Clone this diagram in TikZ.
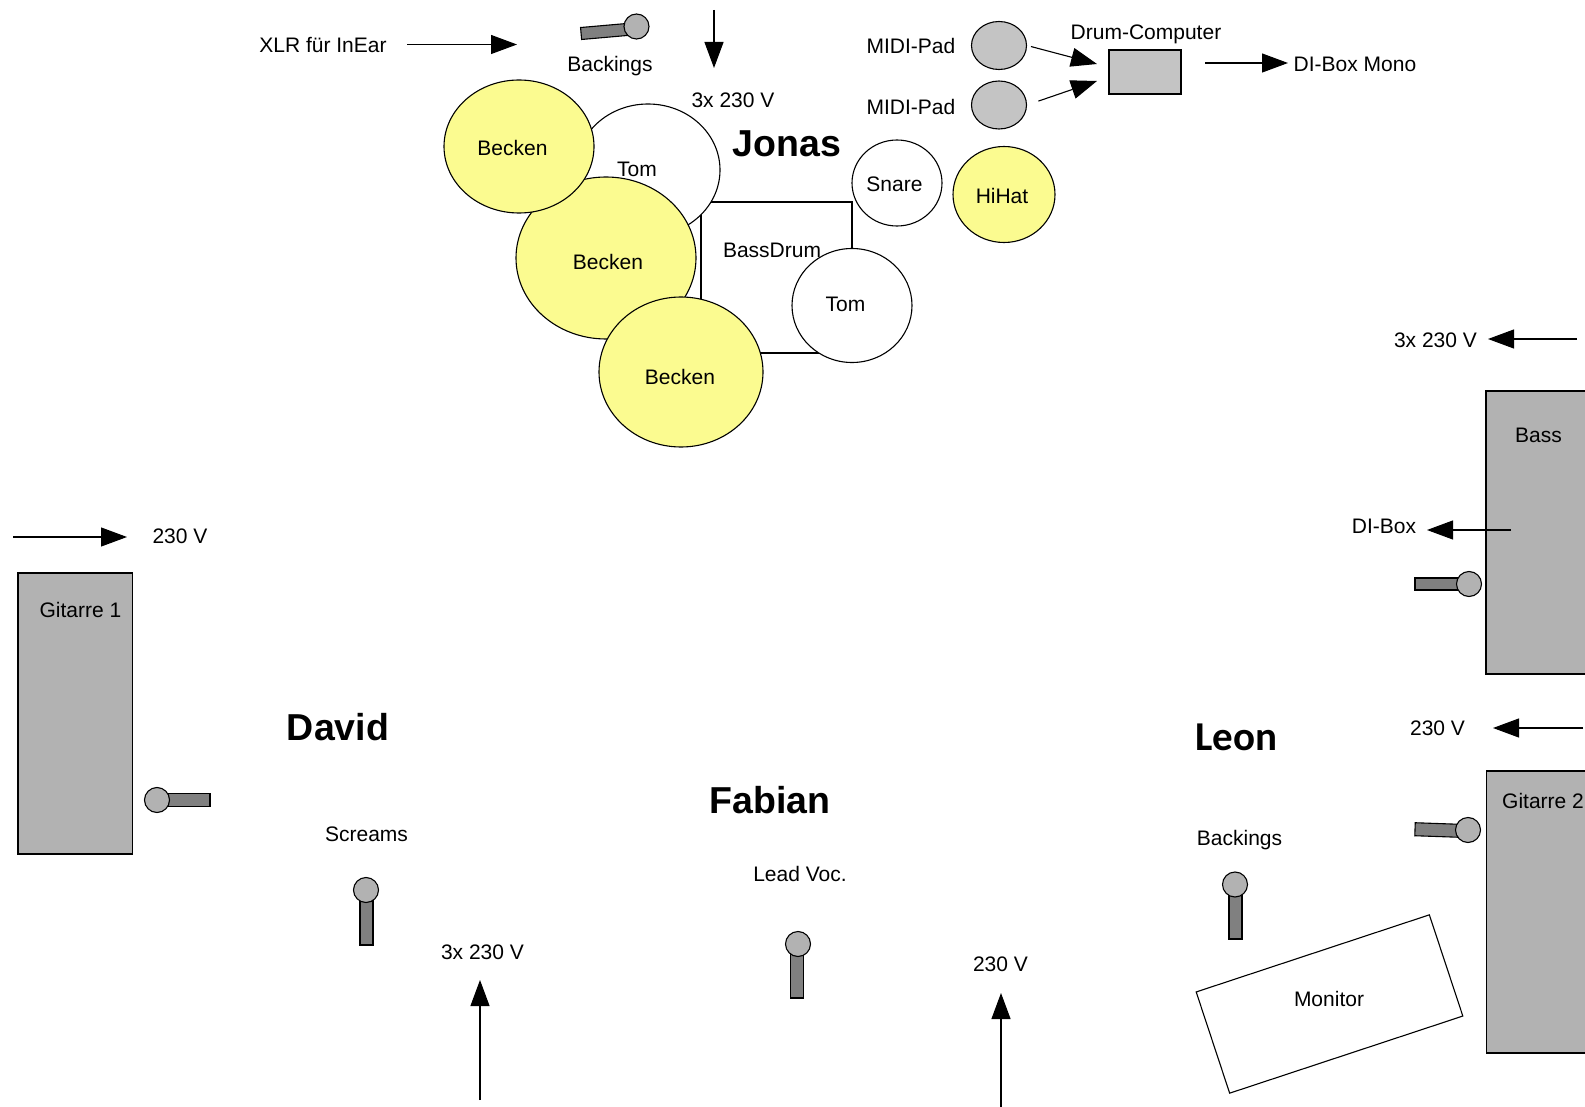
\documentclass[tikz,border=0pt]{standalone}
\usepackage{fontspec}
\setmainfont{Liberation Sans}
\newfontfamily\leonfont{Carlito}
\usetikzlibrary{arrows.meta,shapes.geometric}
\definecolor{beckengelb}{HTML}{FBFB90}
\definecolor{ampgrau}{HTML}{B2B2B2}
\definecolor{padgrau}{HTML}{C4C4C4}
\definecolor{stickgrau}{HTML}{808080}
\tikzset{
  lbl/.style={inner sep=0pt,font=\fontsize{21}{25}\selectfont},
  person/.style={inner sep=0pt,font=\fontsize{37.5}{44}\selectfont\bfseries},
  pfeil/.style={line width=1.1pt,-{Triangle[length=26pt,width=19pt]}},
  drum/.style={draw,ellipse,inner sep=0pt,fill=white,line width=1.1pt},
  becken/.style={drum,fill=beckengelb},
  midipad/.style={drum,fill=padgrau,minimum width=55pt,minimum height=48pt},
  amp/.style={draw,rectangle,inner sep=0pt,fill=ampgrau,line width=1.1pt},
  michead/.style={draw,circle,inner sep=0pt,fill=ampgrau,minimum size=25pt,line width=1.1pt},
  micstick/.style={draw,rectangle,inner sep=0pt,fill=stickgrau,line width=1.1pt},
}
\begin{document}
\begin{tikzpicture}[x=1pt,y=-1pt]
\useasboundingbox (0,0) rectangle (1585,1107);
\clip (0,0) rectangle (1585,1107);

% Drums
\node[draw,rectangle,inner sep=0pt,line width=1.1pt,minimum width=151pt,minimum height=151pt] (bassdrum) at (776.5,277.5) {};
\node[lbl] (bassdrumtxt) at (772,250) {BassDrum};
\node[drum,minimum width=120pt,minimum height=114pt] (tomB) at (852,305.5) {};
\node[lbl] (tomBtxt) at (845.5,304.5) {Tom};
\node[drum,minimum width=144pt,minimum height=132pt] (tomA) at (648,170) {};
\node[lbl] (tomAtxt) at (637,169) {Tom};
\node[becken,minimum width=180pt,minimum height=162pt] (beckenB) at (606,258) {};
\node[lbl] (beckenBtxt) at (608,262) {Becken};
\node[becken,minimum width=150pt,minimum height=133pt] (beckenA) at (519,146.5) {};
\node[lbl] (beckenAtxt) at (512.5,148) {Becken};
\node[becken,minimum width=164pt,minimum height=150pt] (beckenC) at (681,372) {};
\node[lbl] (beckenCtxt) at (680,376.5) {Becken};
\node[drum,minimum width=90pt,minimum height=86pt] (snare) at (897,183) {};
\node[lbl] (snaretxt) at (894.5,184) {Snare};
\node[becken,minimum width=102pt,minimum height=96pt] (hihat) at (1004,194.5) {};
\node[lbl] (hihattxt) at (1002,196) {HiHat};

% Drum-Computer
\node[midipad] (padA) at (999,45.5) {};
\node[midipad] (padB) at (999,105) {};
\node[lbl] (padAtxt) at (911,45.5) {MIDI-Pad};
\node[lbl] (padBtxt) at (911,106.5) {MIDI-Pad};
\node[draw,rectangle,inner sep=0pt,fill=padgrau,line width=1.1pt,minimum width=72pt,minimum height=44pt] (drumcomp) at (1145,72) {};
\node[lbl] (drumcomptxt) at (1146,34.5) {Drum-Computer};
\node[lbl] (dibox) at (1355,64) {DI-Box Mono};
\coordinate (padAend) at (1097,64);
\coordinate (padBend) at (1097,81);
\coordinate (diboxstart) at (1205,63);
\coordinate (diboxend) at (1288,63);
\draw[pfeil,shorten <=4pt] (padA.east) -- (padAend);
\draw[pfeil,shorten <=12pt] (padB.east) -- (padBend);
\draw[pfeil] (diboxstart) -- (diboxend);

% Jonas
\node[person] (jonas) at (787,144) {Jonas};
\node[lbl] (xlr) at (323,45.5) {XLR für InEar};
\coordinate (xlrstart) at (407,44.5);
\coordinate (xlrend) at (517,44.5);
\draw[pfeil] (xlrstart) -- (xlrend);
\node[micstick,rotate=5,minimum width=46pt,minimum height=12pt] (micJstick) at (604,31.5) {};
\node[michead] (micJ) at (636.5,26.5) {};
\node[lbl] (micJtxt) at (610,66) {Backings};
\coordinate (stromJstart) at (714,10);
\coordinate (stromJend) at (714,68);
\draw[pfeil] (stromJstart) -- (stromJend);
\node[lbl] (stromJ) at (733,100.5) {3x 230 V};

% David
\node[person] (david) at (338,727) {David};
\coordinate (stromGstart) at (13,537);
\coordinate (stromGend) at (127,537);
\draw[pfeil] (stromGstart) -- (stromGend);
\node[lbl] (stromG) at (180,536) {230 V};
\node[amp,minimum width=114.5pt,minimum height=281pt] (gitarreA) at (75.25,713.5) {};
\node[lbl] (gitarreAtxt) at (80.5,610) {Gitarre 1};
\node[micstick,minimum width=43pt,minimum height=13pt] (micGstick) at (188.5,800) {};
\node[michead] (micG) at (157,800) {};
\node[lbl] (screams) at (366.5,834.5) {Screams};
\node[micstick,minimum width=13pt,minimum height=44pt] (micDstick) at (366.5,923) {};
\node[michead] (micD) at (366,890) {};
\node[lbl] (stromD) at (482.5,952.5) {3x 230 V};
\coordinate (stromDstart) at (480,1100);
\coordinate (stromDend) at (480,980);
\draw[pfeil] (stromDstart) -- (stromDend);

% Fabian
\node[person] (fabian) at (770,800) {Fabian};
\node[lbl] (leadvoc) at (800,873.5) {Lead Voc.};
\node[micstick,minimum width=13pt,minimum height=44pt] (micFstick) at (797,976) {};
\node[michead] (micF) at (798,944) {};
\node[lbl] (stromF) at (1000.5,964.5) {230 V};
\coordinate (stromFstart) at (1001,1107);
\coordinate (stromFend) at (1001,993);
\draw[pfeil] (stromFstart) -- (stromFend);

% Leon
\node[inner sep=0pt,font=\fontsize{41}{48}\selectfont\leonfont\bfseries] (leon) at (1236.5,737.5) {Leon};
\node[lbl] (backingsL) at (1239.5,840) {Backings};
\node[micstick,minimum width=13pt,minimum height=44pt] (micLstick) at (1235.5,917) {};
\node[michead] (micL) at (1235,884.5) {};
\node[draw,rectangle,inner sep=0pt,rotate=18.3,line width=1.1pt,minimum width=245.6pt,minimum height=106.6pt] (monitor) at (1329.5,1004) {};
\node[lbl] (monitortxt) at (1329,999) {Monitor};

% Rechte Seite
\node[lbl] (stromB) at (1435.5,340) {3x 230 V};
\coordinate (stromBstart) at (1577,339);
\coordinate (stromBend) at (1488,339);
\draw[pfeil] (stromBstart) -- (stromBend);
\node[amp,minimum width=120pt,minimum height=283pt] (bass) at (1546,532.5) {};
\node[lbl] (basstxt) at (1538.5,435.5) {Bass};
\node[lbl] (diboxB) at (1384,526) {DI-Box};
\coordinate (diboxBstart) at (1511,530);
\coordinate (diboxBend) at (1427,530);
\draw[pfeil] (diboxBstart) -- (diboxBend);
\node[micstick,minimum width=44pt,minimum height=12pt] (micBstick) at (1437,584) {};
\node[michead] (micB) at (1469,584) {};
\node[lbl] (stromH) at (1437.5,728) {230 V};
\coordinate (stromHstart) at (1583,728);
\coordinate (stromHend) at (1493,728);
\draw[pfeil] (stromHstart) -- (stromHend);
\node[amp,minimum width=120pt,minimum height=282pt] (gitarreB) at (1546.5,912) {};
\node[lbl] (gitarreBtxt) at (1543,801) {Gitarre 2};
\node[micstick,rotate=-2,minimum width=44pt,minimum height=13pt] (micHstick) at (1437,830) {};
\node[michead] (micH) at (1468,830) {};

\end{tikzpicture}
\end{document}
